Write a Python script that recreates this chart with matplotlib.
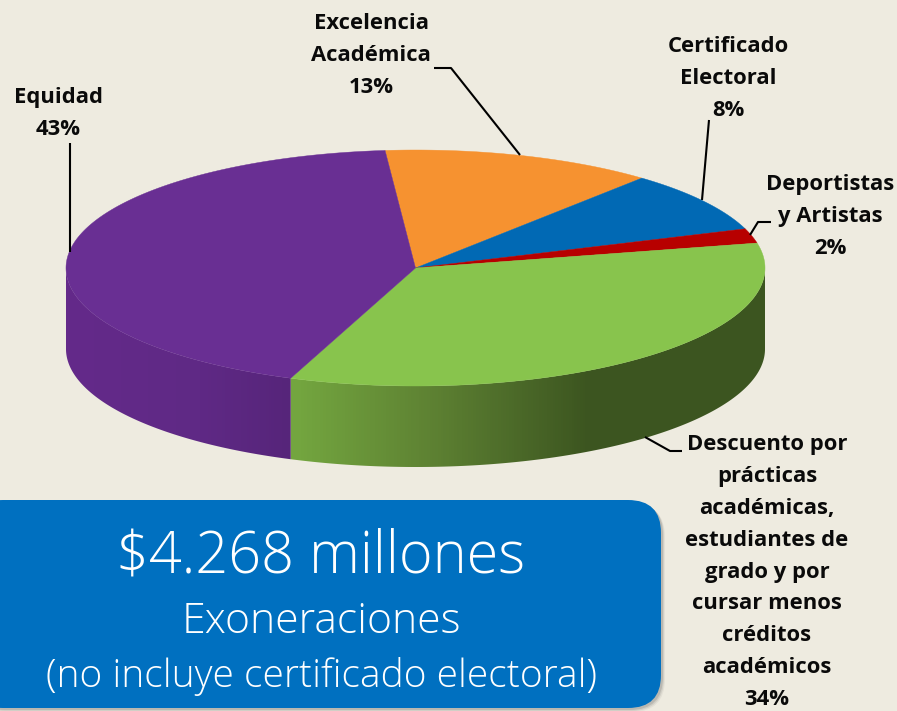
import matplotlib
matplotlib.use("Agg")
import matplotlib.pyplot as plt
from matplotlib.colors import LinearSegmentedColormap
from matplotlib.patches import FancyBboxPatch, Polygon
import numpy as np

plt.rcParams['font.family'] = ['Open Sans', 'DejaVu Sans']

categories = ["Excelencia\nAcadémica", "Certificado\nElectoral", "Deportistas\ny Artistas",
              "Descuento por\nprácticas\nacadémicas,\nestudiantes de\ngrado y por\ncursar menos\ncréditos\nacadémicos", "Equidad"]
shares = [12.6, 8.4, 2.0, 34.2, 42.8]
colors = ["#F69230", "#0169B4", "#B70000", "#88C44D", "#692F93"]
total_text = "$4.268 millones"
sub_text = "Exoneraciones"
note_text = "(no incluye certificado electoral)"

bg = "#EEEBE0"
cx, cy, rx, ry, depth = 415.5, 268, 349.5, 118, 81
start = 95

# shading of the rim, left to right across the whole pie
side_stops = {
    3: ["#73A53F", "#73A53F", "#5E8233", "#3C5520", "#3C5520"],
    4: ["#642A8A", "#5F2985", "#56257A", "#56257A", "#56257A"],
}
stop_x = [66, 200, 291, 590, 766]
stop_x_green = [291, 300, 430, 590, 766]

fig = plt.figure(figsize=(8.97, 7.11), dpi=100, facecolor=bg)
ax = fig.add_axes([0, 0, 1, 1])

angle = start
for i, share in enumerate(shares):
    end = angle - share * 3.6
    t = np.radians(np.linspace(angle, end, 300))
    x = cx + rx * np.cos(t)
    y = cy - ry * np.sin(t)

    # rim first, only the part facing the viewer
    if i in side_stops:
        tl = t[np.sin(t) <= 0]
        xl = cx + rx * np.cos(tl)
        yl = cy - ry * np.sin(tl)
        verts = np.c_[np.r_[xl, xl[::-1]], np.r_[yl, yl[::-1] + depth]]
        sx = stop_x_green if i == 3 else stop_x
        pos = [(v - 66) / 700 for v in sx]
        pos[0], pos[-1] = 0, 1
        if i == 3:
            pos = [0] + pos
            cs = [side_stops[i][0]] + side_stops[i]
        else:
            cs = side_stops[i]
        cmap = LinearSegmentedColormap.from_list("rim", list(zip(pos, cs)))
        im = ax.imshow(np.linspace(0, 1, 700)[None, :], cmap=cmap, extent=(66, 766, 470, 230),
                       aspect="auto", zorder=2)
        clip = Polygon(verts, closed=True, fc="none", ec="none", transform=ax.transData)
        ax.add_patch(clip)
        im.set_clip_path(clip)

    ax.fill(np.r_[cx, x], np.r_[cy, y], color=colors[i], lw=0.3, zorder=3)
    angle = end

ax.set_xlim(0, 897)
ax.set_ylim(711, 0)
ax.axis("off")

# leader lines
leaders = [
    ([434, 451, 520], [68, 68, 155]),
    ([709, 702], [120, 200]),
    ([771, 758, 750], [222, 222, 235]),
    ([682, 670, 645], [451, 451, 437]),
    ([70, 70], [143, 252]),
]
for lx, ly in leaders:
    ax.plot(lx, ly, color="black", lw=1.5, zorder=4, solid_capstyle="butt")

# data labels
label_pos = [(371, 13), (728, 36), (830, 174), (767, 434), (58, 87)]
for name, share, (lx, ly) in zip(categories, shares, label_pos):
    ax.text(lx, ly, f"{name}\n{share:.0f}%", ha="center", va="top", fontsize=15.8, fontweight="bold",
            color="#0A0A0A", linespacing=1.68, zorder=5)

# blue box with soft shadow
for off, alpha in [(4, 0.06), (3, 0.10), (2, 0.15)]:
    ax.add_patch(FancyBboxPatch((-30 + off, 500 + off), 691, 208,
                                boxstyle="round,pad=0,rounding_size=33",
                                fc="#3A3A3A", ec="none", alpha=alpha, zorder=5))
ax.add_patch(FancyBboxPatch((-30, 500), 691, 208, boxstyle="round,pad=0,rounding_size=33",
                            fc="#0070C0", ec="none", zorder=6))
ax.text(321, 572, total_text, ha="center", va="baseline", color="white", fontsize=41.5, fontweight="light", zorder=7)
ax.text(321, 633, sub_text, ha="center", va="baseline", color="white", fontsize=30.8, fontweight="light", zorder=7)
ax.text(321, 687, note_text, ha="center", va="baseline", color="white", fontsize=28, fontweight="light", zorder=7)

fig.savefig("out.png", dpi=100, facecolor=bg)
